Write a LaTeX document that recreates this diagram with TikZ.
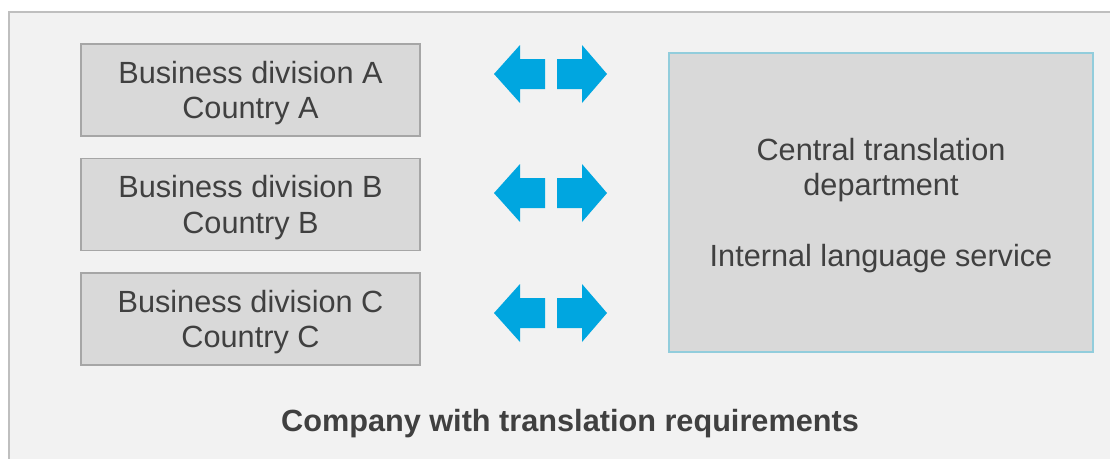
\documentclass[tikz,border=0pt]{standalone}
\usepackage{fontspec}
\setmainfont{Liberation Sans}
\usepackage{xcolor}
\usetikzlibrary{positioning}

\definecolor{pagegray}{HTML}{F2F2F2}
\definecolor{framegray}{HTML}{BFBFBF}
\definecolor{boxfill}{HTML}{D9D9D9}
\definecolor{boxline}{HTML}{A6A6A6}
\definecolor{deptline}{HTML}{92CDDC}
\definecolor{arrowblue}{HTML}{00A6E0}
\definecolor{textgray}{HTML}{404040}

\begin{document}
\begin{tikzpicture}[x=0.75pt,y=-0.75pt,
    every node/.style={font=\fontsize{23}{26.5}\selectfont,text=textgray},
    divbox/.style={draw=boxline,fill=boxfill,line width=1.1pt,
      minimum width=254pt,minimum height=69pt,inner sep=0pt},
    deptbox/.style={draw=deptline,fill=boxfill,line width=1.5pt,
      minimum width=318pt,minimum height=224pt,inner sep=0pt},
    boxtext/.style={align=center,inner sep=0pt},
    blockarrow/.style={fill=arrowblue}]
  \useasboundingbox (0,0) rectangle (1110,458);
  \clip (0,0) rectangle (1110,458);
  \draw[framegray,fill=pagegray,line width=0.9pt] (9,12) rectangle (1130,480);

  % business divisions
  \foreach \l/\y in {A/90,B/204.5,C/319} {
    \node[divbox] (div\l) at (250.5,\y) {};
    \node[boxtext] (div\l text) at ([yshift=-2.25pt]div\l.center)
      {Business division \l\\Country \l};
  }

  % exchange arrows
  \foreach \c in {74,193,313} {
    \fill[blockarrow] (494,\c) -- (520,\c-29) -- (520,\c-15) -- (545,\c-15)
      -- (545,\c+15) -- (520,\c+15) -- (520,\c+29) -- cycle;
    \fill[blockarrow] (607,\c) -- (582,\c-29) -- (582,\c-15) -- (557,\c-15)
      -- (557,\c+15) -- (582,\c+15) -- (582,\c+29) -- cycle;
  }

  \node[deptbox] (dept) at (881,202.5) {};
  \node[boxtext] (depttext) at ([yshift=-2.25pt]dept.center)
    {Central translation\\department\\[26.5pt]Internal language service};

  \node[font=\fontsize{23}{26.5}\selectfont\bfseries,inner sep=0pt] (company)
    at (570,424) {Company with translation requirements};
\end{tikzpicture}
\end{document}
